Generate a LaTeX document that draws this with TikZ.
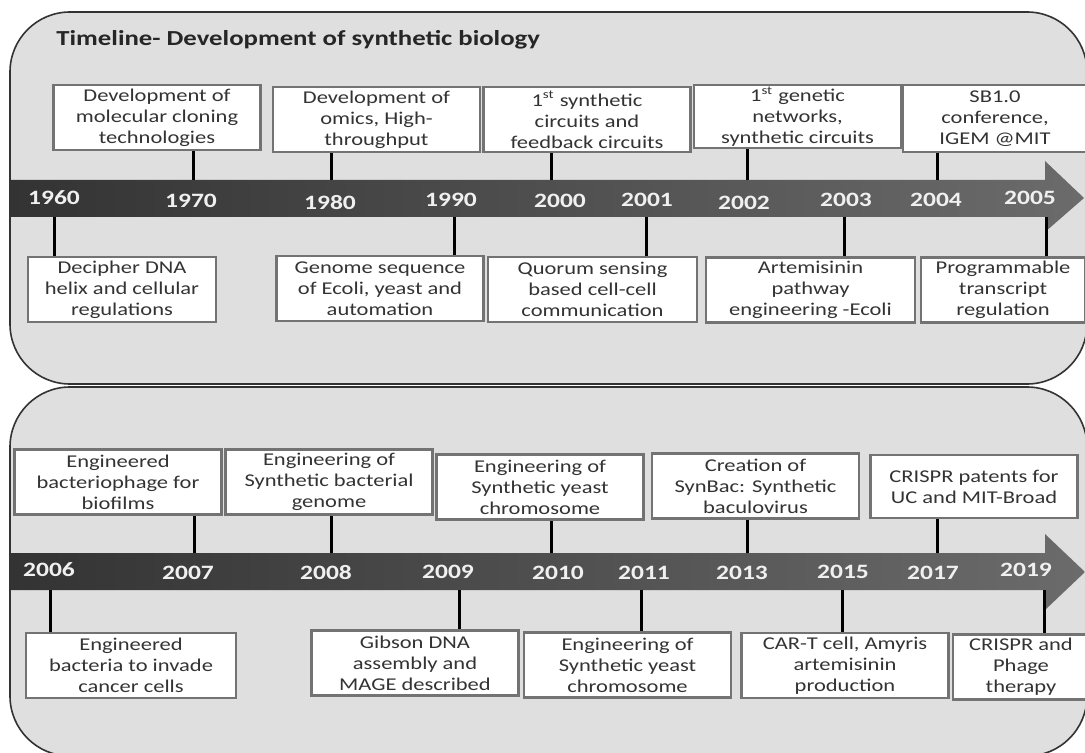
\documentclass[tikz,border=0pt]{standalone}
\usepackage{fontspec}
\setmainfont{Carlito}[FakeStretch=1.25]
\usepackage{tikz}
\usetikzlibrary{positioning}

\begin{document}
\begin{tikzpicture}[
  x=0.5pt, y=-0.5pt,
  panel/.style={draw=black!80, line width=0.8pt, fill=gray!25, rounded corners=30pt},
  ebox/.style={draw=black!55, line width=1.2pt, fill=white, inner sep=0pt,
               minimum width=103.5pt, minimum height=32.5pt, align=center,
               text=black!80, font=\fontsize{9}{10.5}\selectfont},
  yr/.style={text=white!94!black, inner sep=0pt, font=\bfseries\fontsize{10.2}{10.2}\selectfont},
  stalk/.style={line width=1.5pt, black},
  bar/.style={left color=black!80, right color=black!58}
]
\useasboundingbox (0,0) rectangle (1085,753);
\clip (0,0) rectangle (1085,753);

% panels
\draw[panel] (10,12) rectangle (1087,384);
\draw[panel] (10,387) rectangle (1087,756);
\node[anchor=west, inner sep=0pt, text=black!85, font=\bfseries\fontsize{10.7}{10.7}\selectfont]
  (title) at (56,40) {Timeline- Development of synthetic biology};

% arrows
\shade[bar] (10,180) -- (1045,180) -- (1045,161) -- (1084,198) -- (1045,232) -- (1045,217) -- (10,217) -- cycle;
\shade[bar] (10,553) -- (1045,553) -- (1045,534) -- (1085,572) -- (1045,610) -- (1045,590) -- (10,590) -- cycle;

% 1960--2005
\node[ebox] (b1970) at (157,117.5) {Development of\\molecular cloning\\technologies};
\node[ebox] (b1980) at (376.5,119.5) {Development of\\omics, High-\\throughput};
\node[ebox] (b2000) at (587,119.5) {1\textsuperscript{st} synthetic\\circuits and\\feedback circuits};
\node[ebox, minimum height=31.5pt] (b2002) at (797.5,116.5) {1\textsuperscript{st} genetic\\networks,\\synthetic circuits};
\node[ebox, minimum width=92pt, minimum height=33.5pt] (b2004) at (995,118.5) {SB1.0\\conference,\\IGEM @MIT};

\node[ebox, minimum width=94pt] (a1960) at (122,289.5) {Decipher DNA\\helix and cellular\\regulations};
\node[ebox] (a1990) at (380,288.5) {Genome sequence\\of Ecoli, yeast and\\automation};
\node[ebox, minimum width=104.5pt] (a2001) at (592.5,289.5) {Quorum sensing\\based cell-cell\\communication};
\node[ebox, minimum width=104.5pt] (a2003) at (810.5,290) {Artemisinin\\pathway\\engineering -Ecoli};
\node[ebox, minimum width=82pt] (a2005) at (1003,290) {Programmable\\transcript\\regulation};

\coordinate (k1970) at (193,180);
\coordinate (k1980) at (331,180);
\coordinate (k2000) at (551,180);
\coordinate (k2002) at (747,180);
\coordinate (k2004) at (937,180);
\coordinate (k1960) at (54,217);
\coordinate (k1990) at (454,217);
\coordinate (k2001) at (646,217);
\coordinate (k2003) at (844,217);
\coordinate (k2005) at (1046,217);

\draw[stalk] (k1970) -- (k1970 |- b1970.south);
\draw[stalk] (k1980) -- (k1980 |- b1980.south);
\draw[stalk] (k2000) -- (k2000 |- b2000.south);
\draw[stalk] (k2002) -- (k2002 |- b2002.south);
\draw[stalk] (k2004) -- (k2004 |- b2004.south);
\draw[stalk] (k1960) -- (k1960 |- a1960.north);
\draw[stalk] (k1990) -- (k1990 |- a1990.north);
\draw[stalk] (k2001) -- (k2001 |- a2001.north);
\draw[stalk] (k2003) -- (k2003 |- a2003.north);
\draw[stalk] (k2005) -- (k2005 |- a2005.north);

\node[yr] (y1960) at (54,198)   {1960};
\node[yr] (y1970) at (191,201)  {1970};
\node[yr] (y1980) at (330,203)  {1980};
\node[yr] (y1990) at (451,200)  {1990};
\node[yr] (y2000) at (560,201)  {2000};
\node[yr] (y2001) at (647,200)  {2001};
\node[yr] (y2002) at (744,203)  {2002};
\node[yr] (y2003) at (846,200)  {2003};
\node[yr] (y2004) at (936,200)  {2004};
\node[yr] (y2005) at (1030,198) {2005};

% 2006--2019
\node[ebox] (t2007) at (118,482) {Engineered\\bacteriophage for\\biofilms};
\node[ebox] (t2008) at (329,482) {Engineering of\\Synthetic bacterial\\genome};
\node[ebox] (t2010) at (540,487) {Engineering of\\Synthetic yeast\\chromosome};
\node[ebox] (t2013) at (755.5,486) {Creation of\\SynBac: Synthetic\\baculovirus};
\node[ebox, minimum height=31.5pt] (t2017) at (974,486.5) {CRISPR patents for\\UC and MIT-Broad};

\node[ebox, minimum width=105pt] (s2006) at (131,665.5) {Engineered\\bacteria to invade\\cancer cells};
\node[ebox] (s2009) at (415,663) {Gibson DNA\\assembly and\\MAGE described};
\node[ebox] (s2011) at (627.5,665) {Engineering of\\Synthetic yeast\\chromosome};
\node[ebox] (s2015) at (845,665.5) {CAR-T cell, Amyris\\artemisinin\\production};
\node[ebox, minimum width=68pt] (s2019) at (1021,667) {CRISPR and\\Phage\\therapy};

\coordinate (k2007) at (194,553);
\coordinate (k2008) at (331,553);
\coordinate (k2010) at (551,553);
\coordinate (k2013) at (747,553);
\coordinate (k2017) at (937,553);
\coordinate (k2006) at (50,590);
\coordinate (k2009) at (459,590);
\coordinate (k2011) at (641,590);
\coordinate (k2015) at (842,590);
\coordinate (k2019) at (1044,590);

\draw[stalk] (k2007) -- (k2007 |- t2007.south);
\draw[stalk] (k2008) -- (k2008 |- t2008.south);
\draw[stalk] (k2010) -- (k2010 |- t2010.south);
\draw[stalk] (k2013) -- (k2013 |- t2013.south);
\draw[stalk] (k2017) -- (k2017 |- t2017.south);
\draw[stalk] (k2006) -- (k2006 |- s2006.north);
\draw[stalk] (k2009) -- (k2009 |- s2009.north);
\draw[stalk] (k2011) -- (k2011 |- s2011.north);
\draw[stalk] (k2015) -- (k2015 |- s2015.north);
\draw[stalk] (k2019) -- (k2019 |- s2019.north);

\node[yr] (y2006) at (49,570)   {2006};
\node[yr] (y2007) at (188,573)  {2007};
\node[yr] (y2008) at (326,573)  {2008};
\node[yr] (y2009) at (448,572)  {2009};
\node[yr] (y2010) at (558,573)  {2010};
\node[yr] (y2011) at (644,573)  {2011};
\node[yr] (y2013) at (742,573)  {2013};
\node[yr] (y2015) at (843,572)  {2015};
\node[yr] (y2017) at (933,573)  {2017};
\node[yr] (y2019) at (1026,570) {2019};
\end{tikzpicture}
\end{document}
